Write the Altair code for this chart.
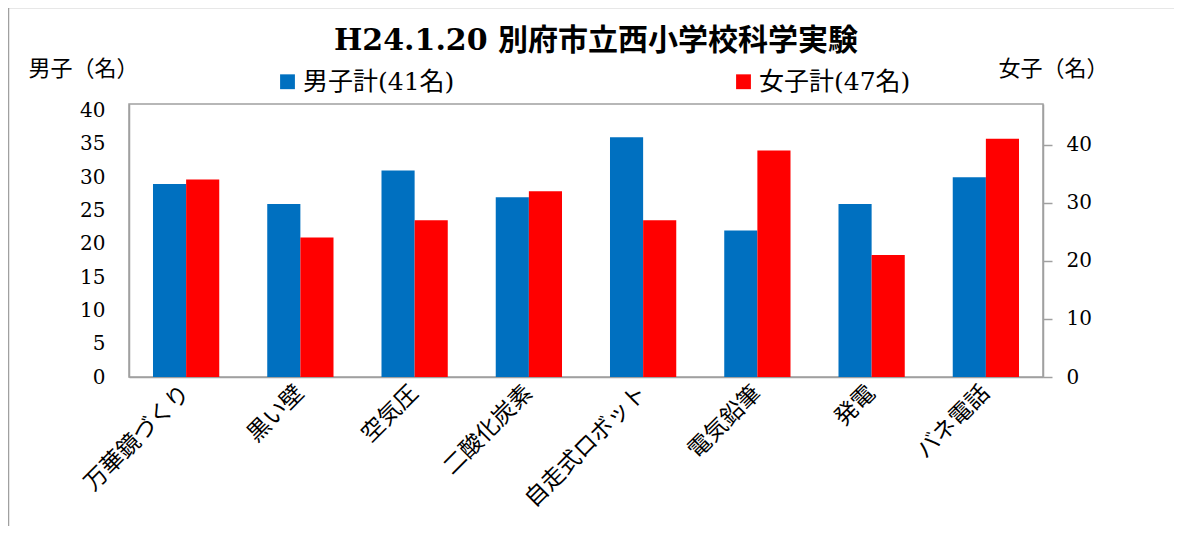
import altair as alt
import pandas as pd

# ---- data ----
categories = ["万華鏡づくり", "黒い壁", "空気圧", "二酸化炭素",
              "自走式ロボット", "電気鉛筆", "発電", "バネ電話"]
boys = [29, 26, 31, 27, 36, 22, 26, 30]
girls = [34, 24, 27, 32, 27, 39, 21, 41]
series_names = ["男子計(41名)", "女子計(47名)"]
series_colors = ["#0070C0", "#FF0000"]
left_max = 41
right_max = 47
left_ticks = [0, 5, 10, 15, 20, 25, 30, 35, 40]
right_ticks = [0, 10, 20, 30, 40]
title_text = "H24.1.20 別府市立西小学校科学実験"
left_title = "男子（名）"
right_title = "女子（名）"

df_b = pd.DataFrame({"項目": categories, "人数": boys, "系列": series_names[0]})
df_g = pd.DataFrame({"項目": categories, "人数": girls, "系列": series_names[1]})

jp_font = "Noto Sans CJK JP"
mix_font = "DejaVu Serif, Noto Sans CJK JP"
num_font = "DejaVu Serif"
frame_col = "#A0A0A0"

x = alt.X(
    "項目:N", sort=categories,
    scale=alt.Scale(paddingInner=0.42, paddingOuter=0.21),
    axis=alt.Axis(title=None, labelAngle=-45, labelAlign="right",
                  labelBaseline="middle", labelFont=jp_font, labelFontSize=23,
                  labelColor="black", labelPadding=12, ticks=False,
                  domainColor=frame_col, domainWidth=1.5),
)
xo = alt.XOffset("系列:N", sort=series_names,
                 scale=alt.Scale(domain=series_names, paddingInner=0))
color = alt.Color(
    "系列:N",
    scale=alt.Scale(domain=series_names, range=series_colors),
    legend=alt.Legend(title=None, orient="none", legendX=146, legendY=-35,
                      direction="horizontal", symbolType="square",
                      symbolSize=220, symbolStrokeWidth=0,
                      labelFont=mix_font, labelFontSize=25, labelColor="black",
                      labelOffset=3,
                      columnPadding=276, labelLimit=400),
)

boys_bar = alt.Chart(df_b).mark_bar().encode(
    x=x, xOffset=xo, color=color,
    y=alt.Y("人数:Q", scale=alt.Scale(domain=[0, left_max], nice=False),
            axis=alt.Axis(values=left_ticks, grid=False, ticks=False,
                          labelFont=num_font, labelFontSize=20,
                          labelColor="black", labelPadding=24,
                          domainColor=frame_col, domainWidth=1.5,
                          title=left_title, titleAngle=0, titleX=-46,
                          titleY=-36, titleAlign="center",
                          titleBaseline="middle", titleFont=jp_font,
                          titleFontSize=22, titleFontWeight="normal",
                          titleColor="black")),
)

girls_bar = alt.Chart(df_g).mark_bar().encode(
    x=x, xOffset=xo, color=color,
    y=alt.Y("人数:Q", scale=alt.Scale(domain=[0, right_max], nice=False),
            axis=alt.Axis(orient="right", values=right_ticks, grid=False,
                          ticks=True, tickSize=9, tickColor=frame_col,
                          tickWidth=1.5,
                          labelFont=num_font, labelFontSize=20,
                          labelColor="black", labelPadding=14,
                          domainColor=frame_col, domainWidth=1.5,
                          title=right_title, titleAngle=0, titleX=10,
                          titleY=-36, titleAlign="center",
                          titleBaseline="middle", titleFont=jp_font,
                          titleFontSize=22, titleFontWeight="normal",
                          titleColor="black")),
)

frame_df = pd.DataFrame({"k": [0]})
top_rule = alt.Chart(frame_df).mark_rule(color=frame_col, strokeWidth=1.5).encode(
    x=alt.value(-120.5), x2=alt.value(1100), y=alt.value(-96.5))
left_rule = alt.Chart(frame_df).mark_rule(color=frame_col, strokeWidth=1.5).encode(
    x=alt.value(-120.5), y=alt.value(-96.5), y2=alt.value(460))

chart = (
    alt.layer(boys_bar, girls_bar, top_rule, left_rule)
    .resolve_scale(y="independent")
    .properties(
        width=914, height=273,
        autosize=alt.AutoSizeParams(type="none"),
        padding={"left": 121, "top": 96, "right": 131, "bottom": 149},
        title=alt.Title(title_text, font=mix_font, fontSize=30,
                        fontWeight="bold", color="black", anchor="middle",
                        baseline="bottom", frame="group", offset=0,
                        dy=79, dx=10),
        background="white",
    )
    .configure_view(stroke=frame_col, strokeWidth=1.5)
)

chart.save("out.html", embed_options={"renderer": "svg", "actions": False})
